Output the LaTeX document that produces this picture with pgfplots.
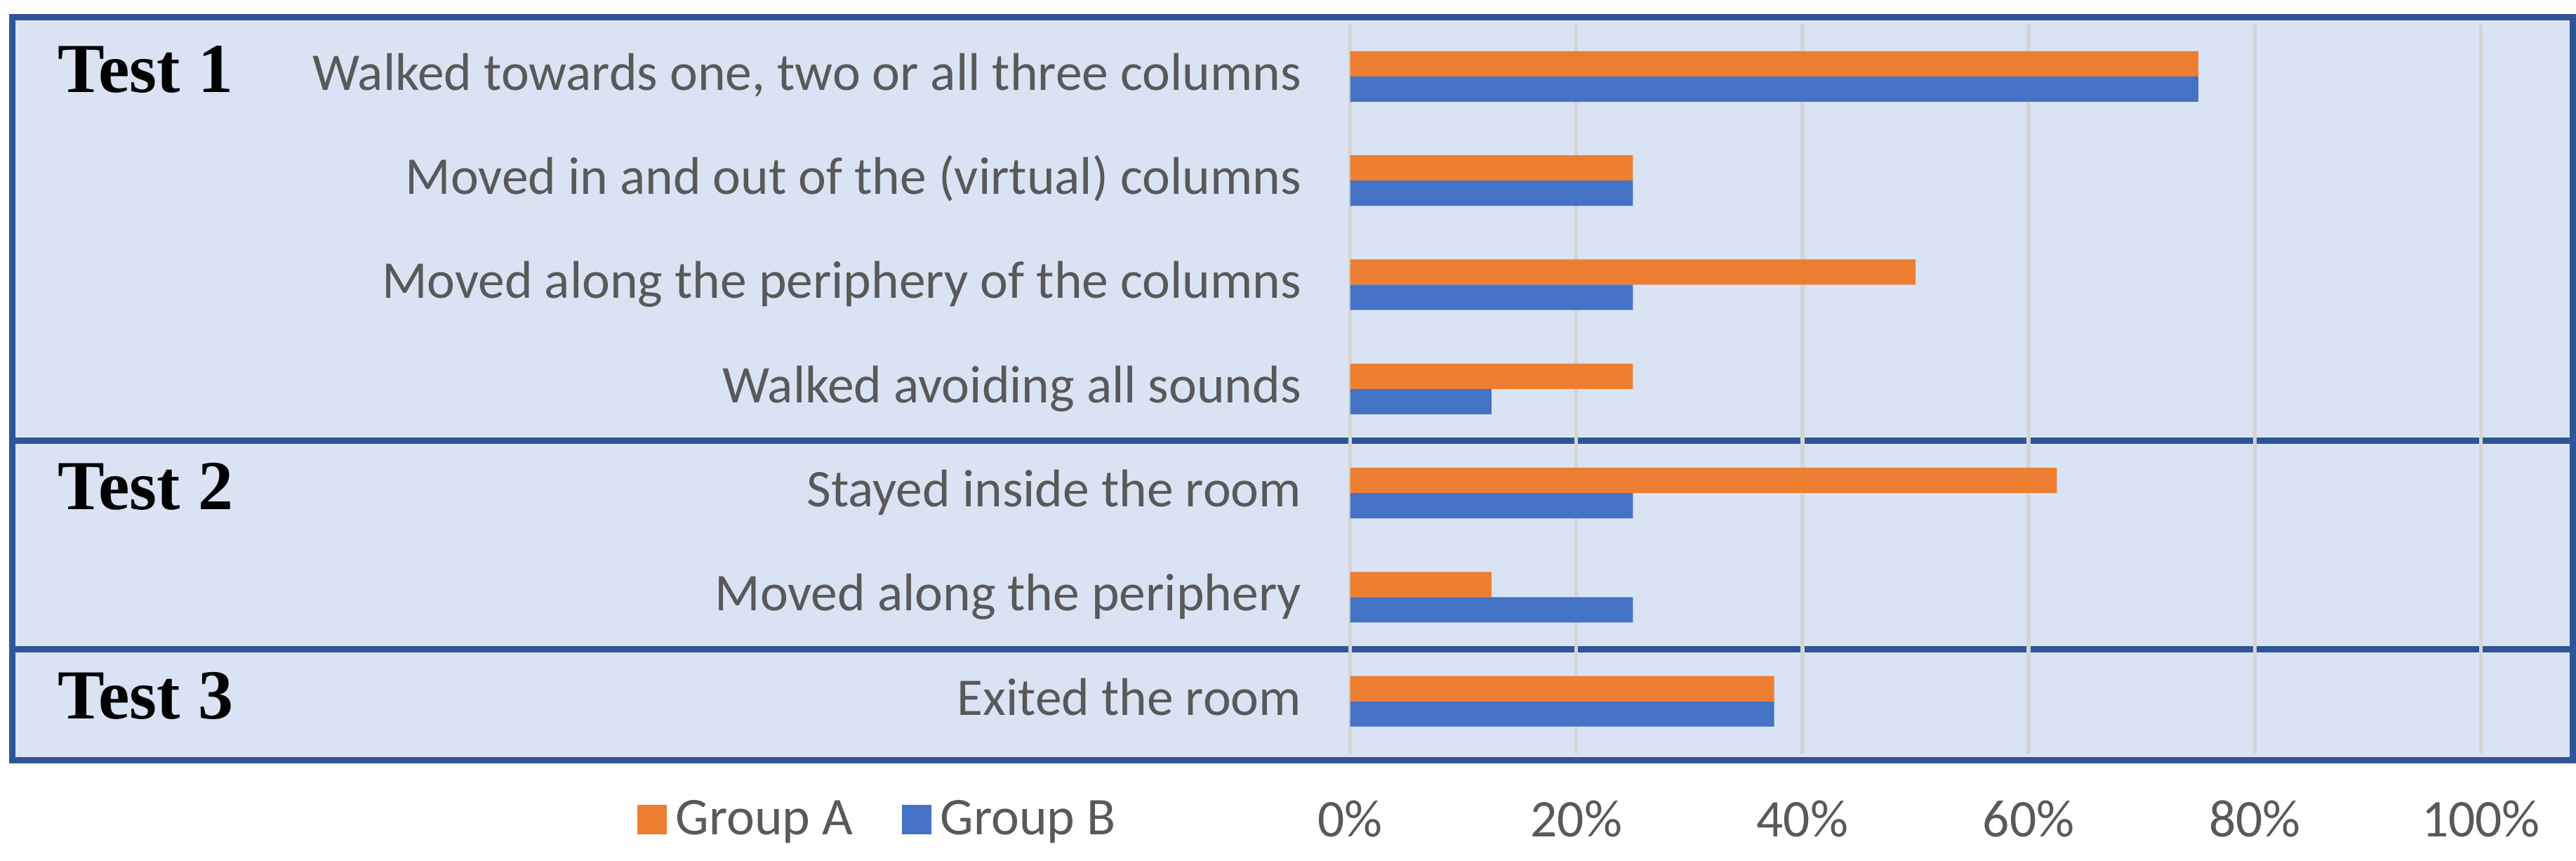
\documentclass[border=0pt]{standalone}
\usepackage{fontspec}
\setmainfont{Carlito}
\newfontfamily\timesfont{Liberation Serif}
\usepackage{pgfplots}
\pgfplotsset{compat=1.18}
\definecolor{grpA}{HTML}{ED7D31}
\definecolor{grpB}{HTML}{4472C4}
\definecolor{panel}{HTML}{DAE3F3}
\definecolor{framec}{HTML}{2F5597}
\definecolor{txt}{HTML}{595959}
\definecolor{gridc}{HTML}{D4D4D4}

\begin{document}
\begin{tikzpicture}
\begin{axis}[
    set layers,
    scale only axis,
    width=322.2pt, height=207.6pt,
    xmin=0, xmax=100, ymin=-0.5, ymax=6.5,
    y dir=reverse,
    xbar, bar width=0.2428,
    clip=false,
    axis line style={draw=none},
    major tick length=0pt,
    xtick={0,20,40,60,80,100},
    xticklabels={0\%,20\%,40\%,60\%,80\%,100\%},
    ytick={0,1,2,3,4,5,6},
    yticklabels={{Walked towards one, two or all three columns},
                 {Moved in and out of the (virtual) columns},
                 {Moved along the periphery of the columns},
                 {Walked avoiding all sounds},
                 {Stayed inside the room},
                 {Moved along the periphery},
                 {Exited the room}},
    xmajorgrids, grid style={gridc, line width=1.1pt},
    tick label style={font=\fontsize{15.1pt}{17pt}\selectfont, text=txt, inner sep=0pt},
    xticklabel style={anchor=base, yshift=-23.8pt},
    yticklabel style={anchor=base east, xshift=-13.7pt, yshift=-3.9pt},
    legend columns=2,
    legend image code/.code={\fill[#1, draw=none] (0pt,0pt) rectangle (8.3pt,8.4pt); \path (10.9pt,0pt);},
    legend style={draw=none, fill=none, inner sep=0pt, outer sep=0pt,
        at={(axis cs:-63.03,7.138)}, anchor=west,
        font=\fontsize{15.1pt}{17pt}\selectfont, text=txt,
        cells={anchor=base west}, nodes={inner sep=0pt},
        /tikz/every even column/.append style={column sep=14pt}},
]
\begin{pgfonlayer}{axis background}
\fill[panel] (axis cs:-118.34,-0.5695) rectangle (axis cs:108.1,6.5648);
\draw[framec, line width=1.8pt] (axis cs:-118.34,3.5) -- (axis cs:108.1,3.5);
\draw[framec, line width=1.8pt] (axis cs:-118.34,5.5) -- (axis cs:108.1,5.5);
\draw[framec, line width=1.8pt] (axis cs:-118.34,-0.5695) rectangle (axis cs:108.1,6.5648);
\end{pgfonlayer}
\path (axis cs:-119.40,-0.7347) rectangle (axis cs:108.41,7.5325);

% Group A
\addplot[fill=grpA, draw=none, bar shift=-0.1214]
  coordinates {(75,0) (25,1) (50,2) (25,3) (62.5,4) (12.5,5) (37.5,6)};
% Group B
\addplot[fill=grpB, draw=none, bar shift=0.1214]
  coordinates {(75,0) (25,1) (25,2) (12.5,3) (25,4) (25,5) (37.5,6)};
\legend{Group A, Group B}

\node[anchor=base west, inner sep=0pt, font={\fontsize{20pt}{24pt}\timesfont\bfseries}] at (axis cs:-114.31,0.1554) {Test 1};
\node[anchor=base west, inner sep=0pt, font={\fontsize{20pt}{24pt}\timesfont\bfseries}] at (axis cs:-114.31,4.161) {Test 2};
\node[anchor=base west, inner sep=0pt, font={\fontsize{20pt}{24pt}\timesfont\bfseries}] at (axis cs:-114.31,6.170) {Test 3};
\end{axis}
\end{tikzpicture}
\end{document}
